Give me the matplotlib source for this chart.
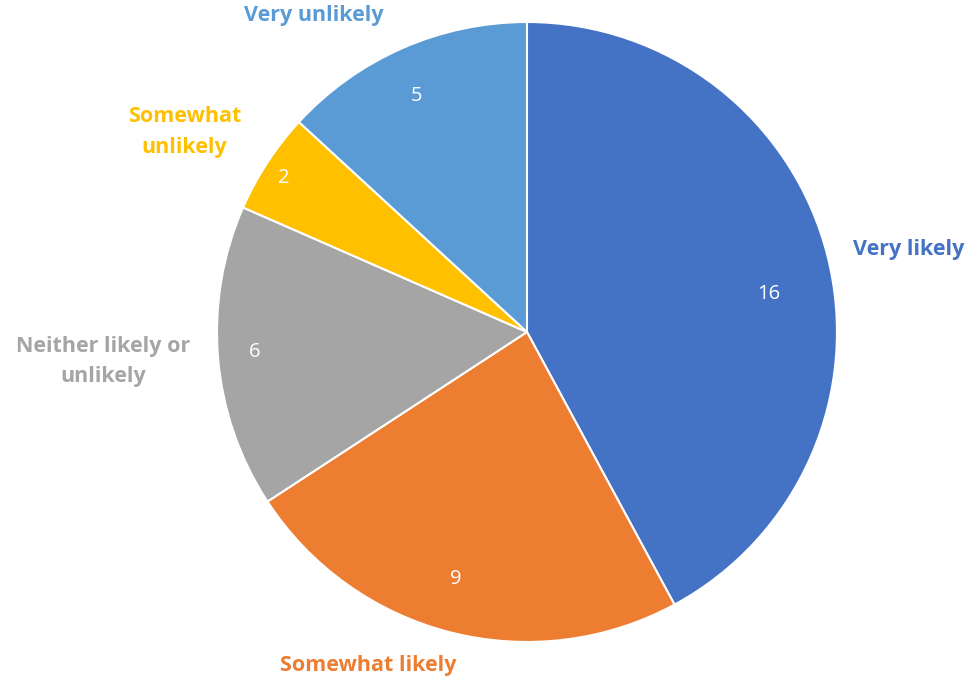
import numpy as np
import matplotlib.pyplot as plt

categories = ['Very likely', 'Somewhat likely', 'Neither likely or\nunlikely',
              'Somewhat\nunlikely', 'Very unlikely']
counts = [16, 9, 6, 2, 5]
colors = ['#4472C4', '#ED7D31', '#A5A5A5', '#FFC000', '#5B9BD5']

# label placement (polar: degrees, fraction of pie radius) picked to match the original
cat_pos = [(12.2, 1.26), (-115.4, 1.19), (184.0, 1.37), (149.7, 1.28), (124.0, 1.23)]
val_pos = [(8.9, 0.79), (-106.0, 0.83), (184.2, 0.88), (147.7, 0.93), (115.0, 0.84)]

plt.rcParams['font.family'] = ['Open Sans', 'DejaVu Sans']

fig = plt.figure(figsize=(9.73, 6.81), dpi=100)
ax = fig.add_axes([0.2230, 0.0573, 0.6372, 0.9104])

wedges, _ = ax.pie(counts, colors=colors, startangle=90, counterclock=False,
                   radius=1.0, wedgeprops=dict(edgecolor='white', linewidth=1.5))

for n, (ang, r) in zip(counts, val_pos):
    a = np.deg2rad(ang)
    ax.text(r * np.cos(a), r * np.sin(a), str(n), color='white',
            fontsize=14.5, ha='center', va='center')

for label, col, (ang, r) in zip(categories, colors, cat_pos):
    a = np.deg2rad(ang)
    ax.text(r * np.cos(a), r * np.sin(a), label, color=col, fontsize=15.5,
            fontweight='bold', ha='center', va='center', linespacing=1.6)

ax.set_xlim(-1, 1)
ax.set_ylim(-1, 1)
ax.set_aspect('equal')
ax.axis('off')

fig.savefig('out.png', dpi=100)
